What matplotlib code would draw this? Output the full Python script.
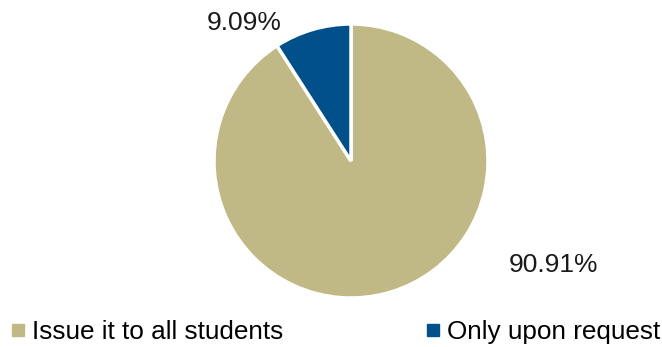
import matplotlib.pyplot as plt
from matplotlib.lines import Line2D

plt.rcParams['font.family'] = ['Liberation Sans', 'DejaVu Sans']

labels = ["Issue it to all students", "Only upon request"]
values = [90.91, 9.09]
colors = ["#C0B986", "#02508A"]

fig = plt.figure(figsize=(6.62, 3.47), dpi=100)
ax = fig.add_axes([(351 - 137) / 662, (347 - 298) / 347, 274 / 662, 274 / 347])

wedges, texts, autotexts = ax.pie(values, colors=colors, startangle=90, counterclock=False,
                                  autopct="%.2f%%",
                                  wedgeprops=dict(edgecolor="white", linewidth=2.5),
                                  textprops=dict(fontsize=19, color="#1a1a1a"))
ax.set_aspect("equal")
ax.set_xlim(-1, 1)
ax.set_ylim(-1, 1)

# excel-style label spots
autotexts[0].set_position((1.475, -0.76))
autotexts[1].set_position((-0.78, 1.01))

handles = [Line2D([], [], marker="s", linestyle="", markersize=8, color=c) for c in colors]
fig.legend(handles, labels, loc="lower left", bbox_to_anchor=(10 / 662, 0.0), ncol=2,
           frameon=False, fontsize=18.8, handletextpad=0.3, handlelength=0.45,
           columnspacing=5.5, borderaxespad=0.0, borderpad=0.1)

fig.savefig("out.png", dpi=100)
